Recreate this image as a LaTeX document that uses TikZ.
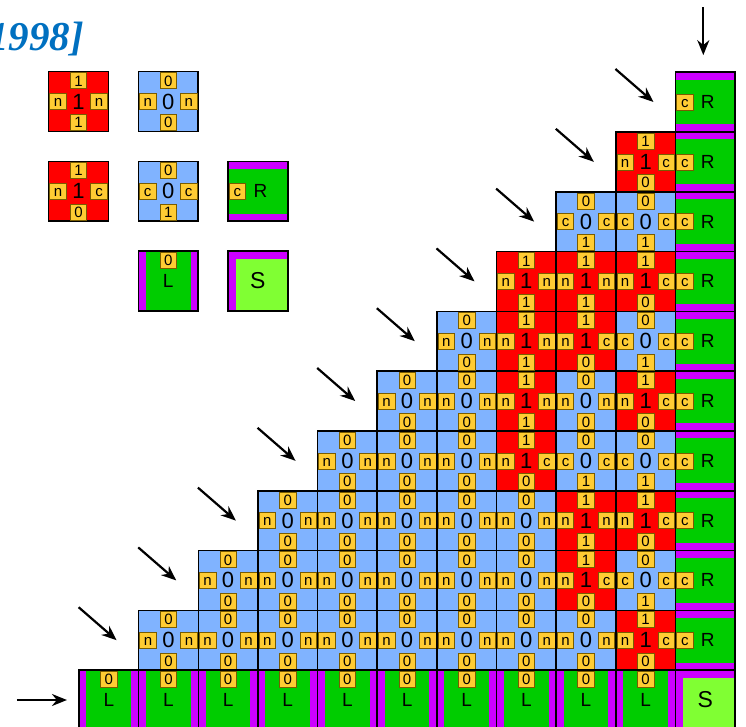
\documentclass[tikz,border=0pt]{standalone}
\usepackage{fontspec}
\setmainfont{Liberation Sans}
\newfontfamily\titlefont{Liberation Serif}
\usetikzlibrary{arrows.meta,positioning}

\definecolor{bit1}{RGB}{255,0,0}
\definecolor{bit0}{RGB}{128,179,255}
\definecolor{lblfill}{RGB}{255,204,51}
\definecolor{lbldraw}{RGB}{120,92,0}
\definecolor{seedgreen}{RGB}{0,204,0}
\definecolor{seedbar}{RGB}{204,0,255}
\definecolor{cornergreen}{RGB}{128,255,51}
\definecolor{titleblue}{RGB}{0,112,192}

\newcommand{\bittile}[7]{%
  \node[tile=#3, #2] (#1) {#3};
  \node[lbl, anchor=west]  (#1-w) at ([xshift=.8pt]#1.west)   {#4};
  \node[lbl, anchor=east]  (#1-e) at ([xshift=-.8pt]#1.east)  {#5};
  \node[lbl, anchor=north] (#1-n) at ([yshift=-.8pt]#1.north) {#6};
  \node[lbl, anchor=south] (#1-s) at ([yshift=.8pt]#1.south)  {#7};
}

\begin{document}
\begin{tikzpicture}[x=1pt, y=-1pt,
    base/.style  = {draw=black, line width=1.5pt, minimum size=59.7pt,
                    inner sep=0pt, outer sep=0pt},
    tile/.style  = {base, fill=bit#1, font=\fontsize{22}{22}\selectfont},
    lbl/.style   = {draw=lbldraw, fill=lblfill, line width=.6pt,
                    minimum width=16.5pt, minimum height=16pt, inner sep=0pt,
                    text height=10.7pt, text depth=0pt,
                    font=\fontsize{15}{15}\selectfont},
    rtile/.style = {base, fill=seedgreen, font=\fontsize{19}{19}\selectfont,
                    path picture={
                      \fill[seedbar] (path picture bounding box.north west)
                        rectangle ([yshift=-7.5pt]path picture bounding box.north east);
                      \fill[seedbar] (path picture bounding box.south west)
                        rectangle ([yshift=7.5pt]path picture bounding box.south east);}},
    ltile/.style = {base, fill=seedgreen, font=\fontsize{19}{19}\selectfont,
                    path picture={
                      \fill[seedbar] (path picture bounding box.north west)
                        rectangle ([xshift=7.5pt]path picture bounding box.south west);
                      \fill[seedbar] (path picture bounding box.north east)
                        rectangle ([xshift=-7.5pt]path picture bounding box.south east);}},
    stile/.style = {base, fill=cornergreen, font=\fontsize{23}{23}\selectfont,
                    path picture={
                      \fill[seedbar] (path picture bounding box.north west)
                        rectangle ([yshift=-7.5pt]path picture bounding box.north east);
                      \fill[seedbar] (path picture bounding box.north west)
                        rectangle ([xshift=7.5pt]path picture bounding box.south west);}},
    arrow/.style = {-{Stealth[length=15pt, width=12pt]}, line width=2.2pt}
  ]
  \useasboundingbox (0,0) rectangle (746,726);

  \node[anchor=base east, inner sep=0pt, text=titleblue,
        font=\titlefont\bfseries\itshape\fontsize{41}{41}\selectfont]
        (title) at (84,50) {[1998]};

  \bittile{k-a}{at={(78.5,101.5)}}{1}{n}{n}{1}{1}
  \bittile{k-b}{right=30pt of k-a}{0}{n}{n}{0}{0}
  \bittile{k-c}{below=30pt of k-a}{1}{n}{c}{1}{0}
  \bittile{k-d}{right=30pt of k-c}{0}{c}{c}{0}{1}
  \node[rtile, right=30pt of k-d] (k-r) {\hspace*{5pt}R};
  \node[lbl, anchor=west] (k-r-w) at ([xshift=.8pt]k-r.west) {c};
  \node[ltile, below=30pt of k-d] (k-l) {L};
  \node[lbl, anchor=north] (k-l-n) at ([yshift=-.8pt]k-l.north) {0};
  \node[stile, right=30pt of k-l] (k-s) {S};

  \foreach \r in {1,...,9}{
    \foreach \c in {\r,...,9}{
      \pgfmathtruncatemacro\kk{9-\c}
      \pgfmathtruncatemacro\pp{2^\kk}
      \pgfmathtruncatemacro\bitN{mod(floor(\r/\pp),2)}
      \pgfmathtruncatemacro\bitS{mod(floor((\r-1)/\pp),2)}
      \pgfmathtruncatemacro\cin{mod(\r-1,\pp)==\pp-1}
      \pgfmathtruncatemacro\cout{\cin*\bitS}
      \bittile{t-\c-\r}{at={({108.8+59.65*\c},{700-59.8*\r})}}{\bitN}
        {\ifnum\cout=1 c\else n\fi}{\ifnum\cin=1 c\else n\fi}{\bitN}{\bitS}
    }
  }

  \foreach \r in {1,...,10}{
    \node[rtile] (R-\r) at (705.3,{700-59.8*\r}) {\hspace*{5pt}R};
    \node[lbl, anchor=west] (R-\r-w) at ([xshift=.8pt]R-\r.west) {c};
  }
  \foreach \c in {0,...,9}{
    \node[ltile] (L-\c) at ({108.8+59.65*\c},700) {L};
    \node[lbl, anchor=north] (L-\c-n) at ([yshift=-.8pt]L-\c.north) {0};
  }
  \node[stile] (S) at (705.3,700) {S};

  \foreach \r in {1,...,9}
    \draw[arrow] ([shift={(-60pt,33pt)}]t-\r-\r.west) -- ([xshift=-22pt]t-\r-\r.west);
  \draw[arrow] ([shift={(-60pt,33pt)}]R-10.west) -- ([xshift=-22pt]R-10.west);
  \draw[arrow] ([xshift=-62pt]L-0.west) -- ([xshift=-12pt]L-0.west);
  \draw[arrow] ([shift={(-2pt,65pt)}]R-10.north) -- ([shift={(-2pt,17pt)}]R-10.north);
\end{tikzpicture}
\end{document}
